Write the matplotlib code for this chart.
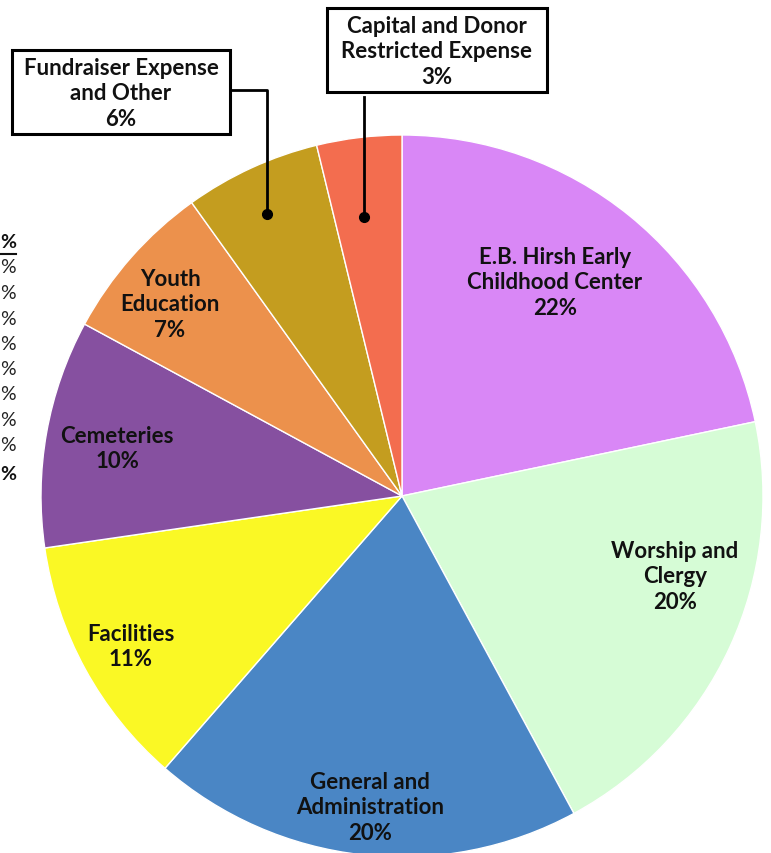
import matplotlib
matplotlib.use("Agg")
import matplotlib.pyplot as plt
from matplotlib.patches import Rectangle

# ---- data ----
categories = ["E.B. Hirsh Early\nChildhood Center", "Worship and\nClergy",
              "General and\nAdministration", "Facilities", "Cemeteries",
              "Youth\nEducation", "Fundraiser Expense\nand Other",
              "Capital and Donor\nRestricted Expense"]
values = [21.7, 20.4, 19.3, 11.3, 10.2, 7.2, 6.1, 3.8]
pct_labels = ["22%", "20%", "20%", "11%", "10%", "7%", "6%", "3%"]
colors = ["#D987F6", "#D6FCD6", "#4A86C5", "#FAF825", "#8650A0",
          "#EC914C", "#C49D1F", "#F36D4F"]

W, H = 771, 854
fig = plt.figure(figsize=(W / 100, H / 100), dpi=100)
ax = fig.add_axes([0, 0, 1, 1])

CX, CY, R = 402, 497, 361
ax.pie(values, colors=colors, startangle=-90, counterclock=True,
       center=(CX, CY), radius=R,
       wedgeprops=dict(edgecolor="white", linewidth=1.0))
ax.set_xlim(0, W)
ax.set_ylim(H, 0)
ax.set_aspect("equal")
ax.axis("off")

FONT = ["Lato", "DejaVu Sans"]
FS = 16
TXT = "#111111"
LS = 1.24

# inner labels: (index, x, y)
inner = [(0, 555, 283), (1, 675, 577), (2, 370, 808), (3, 131, 647),
         (4, 117, 449), (5, 170, 305)]
for i, x, y in inner:
    ax.text(x, y, categories[i] + "\n" + pct_labels[i], ha="center", va="center",
            fontsize=FS, fontweight="bold", family=FONT, color=TXT,
            linespacing=LS)

# boxed labels with leaders
def boxed(i, x0, y0, x1, y1):
    ax.add_patch(Rectangle((x0, y0), x1 - x0, y1 - y0, facecolor="white",
                           edgecolor="black", linewidth=2.2, zorder=5))
    ax.text((x0 + x1) / 2, (y0 + y1) / 2 + 1, categories[i] + "\n" + pct_labels[i],
            ha="center", va="center", fontsize=FS, fontweight="bold",
            family=FONT, color=TXT, linespacing=LS, zorder=6)

boxed(6, 12, 51, 230, 135)
ax.plot([230, 267, 267], [91, 91, 215], color="black", lw=2, zorder=4)
ax.plot([267], [215], "o", color="black", ms=7, zorder=4)

boxed(7, 327, 9, 547, 93)
ax.plot([364, 364], [98, 218], color="black", lw=2, zorder=4)
ax.plot([364], [218], "o", color="black", ms=7, zorder=4)

# table column fragment at left edge
rows_y = [243, 268, 294, 320, 345, 370, 395, 421, 446, 475]
for k, y in enumerate(rows_y):
    bold = k in (0, len(rows_y) - 1)
    ax.text(0.5, y, "%", ha="left", va="center", fontsize=14,
            fontweight="bold" if bold else "normal",
            family=["Lato"],
            color="#111111" if bold else "#222222")
ax.plot([0, 16], [255, 255], color="#111111", lw=1.5)

fig.savefig("out.png", dpi=100)
